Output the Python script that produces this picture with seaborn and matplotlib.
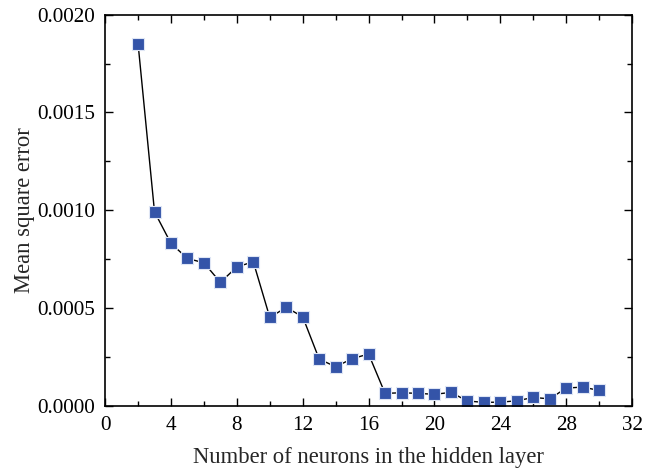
import numpy as np
import pandas as pd
import seaborn as sns
import matplotlib.pyplot as plt
from matplotlib.ticker import MultipleLocator, FormatStrFormatter

neurons = list(range(2, 31))
mse = [0.001852, 0.000992, 0.000831, 0.000754, 0.000732, 0.000632, 0.000711, 0.000737,
       0.000453, 0.000504, 0.000456, 0.000240, 0.000201, 0.000242, 0.000266, 0.000065,
       0.000068, 0.000065, 0.000060, 0.000070, 0.000026, 0.000019, 0.000020, 0.000027,
       0.000044, 0.000037, 0.000092, 0.000097, 0.000080]

df = pd.DataFrame({'neurons': neurons, 'mse': mse})

sns.set_style('ticks')
plt.rcParams['font.family'] = ['Liberation Serif', 'DejaVu Serif']

fig = plt.figure(figsize=(6.57, 4.70), dpi=100)
ax = fig.add_axes([0.160, 0.136, 0.802, 0.833])

sns.lineplot(data=df, x='neurons', y='mse', ax=ax, color='black', linewidth=1.0,
             marker='s', markersize=8, markerfacecolor='#3454a8',
             markeredgecolor='#dfe6f5', markeredgewidth=0.8)

ax.set_xlim(0, 32)
ax.set_ylim(0, 0.002)
ax.xaxis.set_major_locator(MultipleLocator(4))
ax.xaxis.set_minor_locator(MultipleLocator(2))
ax.yaxis.set_major_locator(MultipleLocator(0.0005))
ax.yaxis.set_minor_locator(MultipleLocator(0.00025))
ax.yaxis.set_major_formatter(FormatStrFormatter('%.4f'))

ax.tick_params(which='both', direction='in', top=True, right=True, labelsize=15.2, colors='black')
ax.tick_params(which='major', length=6, width=1, pad=7)
ax.tick_params(which='minor', length=3.5, width=1)
for s in ax.spines.values():
    s.set_linewidth(1.2)
    s.set_color('black')

ax.set_xlabel('Number of neurons in the hidden layer', fontsize=16.3, labelpad=9)
ax.set_ylabel('Mean square error', fontsize=16.3, labelpad=2)

fig.savefig('out.png', dpi=100)
